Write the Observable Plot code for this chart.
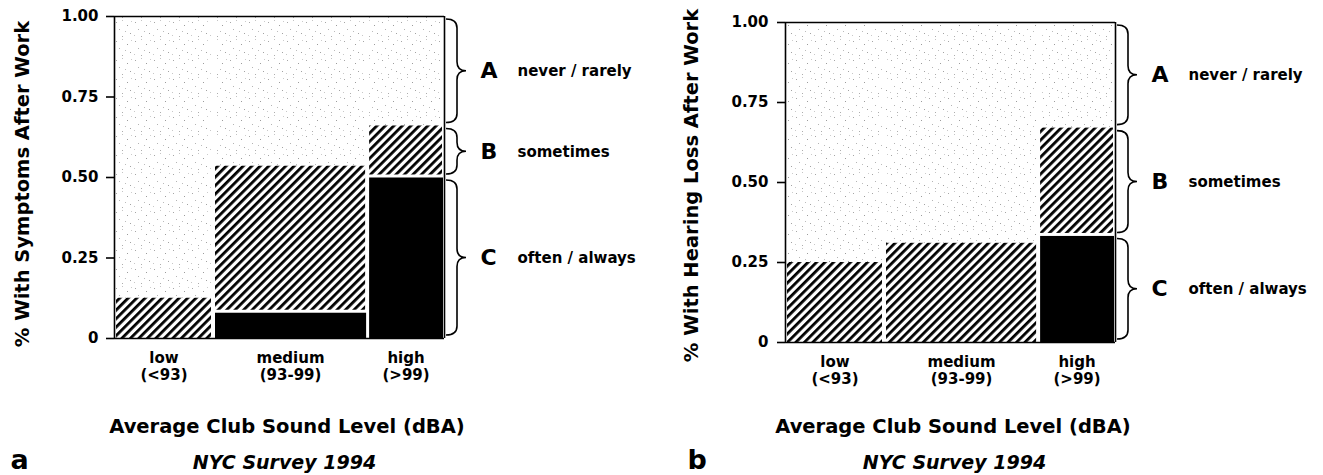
<!DOCTYPE html>
<html><head><meta charset="utf-8">
<script src="https://cdn.jsdelivr.net/npm/d3@7"></script>
<script src="https://cdn.jsdelivr.net/npm/@observablehq/plot@0.6"></script>
<style>
body{margin:0;background:#fff;}
#wrap{position:relative;width:1323px;height:475px;overflow:hidden;background:#fff;}
#wrap svg{position:absolute;top:0;}
</style></head><body><div id="wrap"></div>
<script>
// ---- data ----
const levels = ["low", "medium", "high"];
const levelRanges = ["(<93)", "(93-99)", "(>99)"];
const clubShare = [0.30, 0.467, 0.233];           // column widths (share of clubs)
const responses = ["A", "B", "C"];
const responseLabels = ["never / rarely", "sometimes", "often / always"];
const symptomsOften = [0, 0.08, 0.50];            // C
const symptomsSometimes = [0.125, 0.455, 0.16];   // B
const hearingOften = [0, 0, 0.333];               // C
const hearingSometimes = [0.25, 0.31, 0.337];     // B
const yTicks = [0, 0.25, 0.5, 0.75, 1];
const panelLetters = ["a", "b"];
const yTitles = ["% With Symptoms After Work", "% With Hearing Loss After Work"];
const xTitle = "Average Club Sound Level (dBA)";
const survey = "NYC Survey 1994";

function buildRows(often, sometimes) {
  let x = 0; const rows = [];
  levels.forEach((lv, i) => {
    const x1 = x, x2 = x + clubShare[i]; x = x2;
    const base = {level: lv, range: levelRanges[i], x1, x2, col: i};
    rows.push({...base, resp: "C", y1: 0, y2: often[i]});
    rows.push({...base, resp: "B", y1: often[i], y2: often[i] + sometimes[i]});
    rows.push({...base, resp: "A", y1: often[i] + sometimes[i], y2: 1});
  });
  return rows.filter(d => d.y2 > d.y1);
}

function addDefs(svg, id) {
  const defs = d3.select(svg).insert("defs", ":first-child");
  const h = defs.append("pattern").attr("id", "hatch-" + id)
    .attr("width", 6).attr("height", 6).attr("patternUnits", "userSpaceOnUse")
    .attr("patternTransform", "rotate(45)");
  h.append("rect").attr("width", 6).attr("height", 6).attr("fill", "white");
  h.append("rect").attr("width", 2.8).attr("height", 6).attr("fill", "black");
  const p = defs.append("pattern").attr("id", "dots-" + id)
    .attr("width", 19).attr("height", 19).attr("patternUnits", "userSpaceOnUse");
  p.append("rect").attr("width", 19).attr("height", 19).attr("fill", "white");
  const pts = [[2,3,"#a6a6a6"],[8,1,"#c4c4c4"],[13,6,"#9c9c9c"],[17,2,"#cccccc"],[5,10,"#b4b4b4"],
               [11,12,"#bcbcbc"],[16,14,"#a3a3a3"],[1,16,"#c8c8c8"],[8,17,"#adadad"]];
  pts.forEach(([x, y, c]) => p.append("rect").attr("x", x).attr("y", y).attr("width", 1).attr("height", 1).attr("fill", c));
}

function braceMark(segs) {
  return (index, scales) => {
    const g = d3.create("svg:g").attr("fill", "none").attr("stroke", "black").attr("stroke-width", 1.6);
    const X = scales.x(1);
    for (const s of segs) {
      const yTop = scales.y(s.y2) + 3, yBot = scales.y(s.y1) - 3, yMid = (yTop + yBot) / 2;
      const x0 = X + 2, xv = X + 13, xt = X + 22;
      const r = Math.min(9, (yBot - yTop) / 4), r2 = Math.min(9, (yBot - yTop) / 4);
      const path = d3.path();
      path.moveTo(x0, yTop);
      path.quadraticCurveTo(xv, yTop, xv, yTop + r);
      path.lineTo(xv, yMid - r2);
      path.quadraticCurveTo(xv, yMid, xt, yMid);
      path.quadraticCurveTo(xv, yMid, xv, yMid + r2);
      path.lineTo(xv, yBot - r);
      path.quadraticCurveTo(xv, yBot, x0, yBot);
      g.append("path").attr("d", path.toString());
    }
    return g.node();
  };
}

function panel(k, often, sometimes, geom) {
  const id = panelLetters[k];
  const rows = buildRows(often, sometimes);
  const high = rows.filter(d => d.col === 2).map(d => ({...d, letter: d.resp, desc: responseLabels[responses.indexOf(d.resp)], mid: (d.y1 + d.y2) / 2}));
  const cols = levels.map((lv, i) => rows.find(d => d.col === i));
  const bold = "bold";
  const hatch = `url(#hatch-${id})`;
  const svg = Plot.plot({
    width: geom.width, height: 475,
    marginLeft: geom.left, marginRight: geom.right, marginTop: geom.top, marginBottom: geom.bottom,
    style: {fontFamily: "'DejaVu Sans', sans-serif", fontSize: "15px", fontWeight: "bold", background: "white", overflow: "visible"},
    x: {domain: [0, 1], axis: null},
    y: {domain: [0, 1], ticks: yTicks, tickFormat: d => d === 0 ? "0" : d.toFixed(2), tickSize: 8, tickPadding: geom.pad, label: null},
    marks: [
      Plot.rect(rows.filter(d => d.resp === "A"), {x1: "x1", x2: "x2", y1: "y1", y2: "y2", fill: `url(#dots-${id})`, insetLeft: 2, insetRight: 2}),
      Plot.rect(rows.filter(d => d.resp === "B" && d.y1 === 0), {x1: "x1", x2: "x2", y1: "y1", y2: "y2", fill: hatch, insetLeft: 2, insetRight: 2}),
      Plot.rect(rows.filter(d => d.resp === "B" && d.y1 > 0), {x1: "x1", x2: "x2", y1: "y1", y2: "y2", fill: hatch, insetLeft: 2, insetRight: 2, insetBottom: 2.5}),
      Plot.rect(rows.filter(d => d.resp === "C"), {x1: "x1", x2: "x2", y1: "y1", y2: "y2", fill: "black", insetLeft: 2, insetRight: 1, insetTop: 0.5}),
      Plot.ruleX([0, 1], {y1: 0, y2: 1, strokeWidth: 1.6}),
      Plot.ruleY([0, 1], {x1: 0, x2: 1, strokeWidth: 1.6}),
      braceMark(high),
      Plot.text(high, {x: () => 1, y: "mid", text: "letter", dx: 36, textAnchor: "start", fontSize: 22, fontWeight: bold}),
      Plot.text(high, {x: () => 1, y: "mid", text: "desc", dx: 73, textAnchor: "start", fontSize: 15, fontWeight: bold}),
      Plot.text(cols, {x: d => (d.x1 + d.x2) / 2, text: d => d.level + "\n" + d.range, frameAnchor: "bottom", lineAnchor: "bottom", lineHeight: 1.133, dy: 41.5, fontSize: 15, fontWeight: bold}),
      Plot.text([yTitles[k]], {text: d => d, frameAnchor: "left", textAnchor: "middle", lineAnchor: "middle", rotate: -90, dx: geom.ylabDx, dy: geom.ylabDy, fontSize: 19.5, fontWeight: bold}),
      Plot.text([xTitle], {text: d => d, frameAnchor: "bottom", lineAnchor: "bottom", dx: geom.xtDx, dy: geom.xtDy, fontSize: 19.5, fontWeight: bold}),
      Plot.text([survey], {text: d => d, frameAnchor: "bottom", lineAnchor: "bottom", dx: geom.nycDx, dy: geom.nycDy, fontSize: 19, fontWeight: bold, fontStyle: "italic"}),
      Plot.text([id], {text: d => d, frameAnchor: "bottom-left", lineAnchor: "bottom", textAnchor: "start", dx: geom.letDx, dy: geom.nycDy, fontSize: 27, fontWeight: bold})
    ]
  });
  addDefs(svg, id);
  d3.select(svg).selectAll('g[aria-label^="y-axis"] path, g[aria-label^="y-axis"] line').attr("stroke-width", 1.6);
  svg.style.left = geom.x + "px";
  document.getElementById("wrap").appendChild(svg);
}

panel(0, symptomsOften, symptomsSometimes,
  {x: 0, width: 661, left: 114, right: 217, top: 16, bottom: 137, pad: 8,
   ylabDx: -92, ylabDy: 6.5, xtDx: 7.5, xtDy: 94, nycDx: 5, nycDy: 130, letDx: -104});
panel(1, hearingOften, hearingSometimes,
  {x: 661, width: 662, left: 124, right: 208, top: 22, bottom: 133, pad: 9,
   ylabDx: -94, ylabDy: 3, xtDx: 2.5, xtDy: 90, nycDx: 4, nycDy: 126, letDx: -98});
</script>
</body></html>
